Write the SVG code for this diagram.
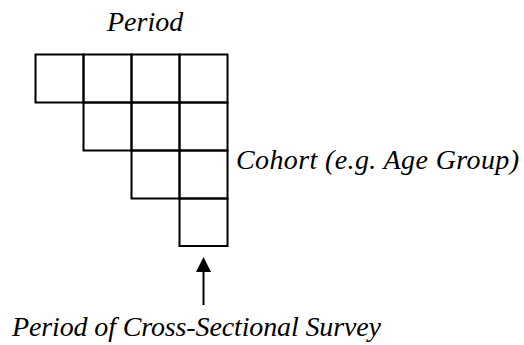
<svg xmlns="http://www.w3.org/2000/svg" width="524" height="345" viewBox="0 0 524 345">
<style>
.cell{fill:none;stroke:#000;stroke-width:2}
.conn{stroke:#000;stroke-width:2;fill:none}
</style>
<rect width="524" height="345" fill="#fff"/>
<g id="grid">
<rect class="cell" x="35.5" y="54.5" width="48" height="48"/>
<rect class="cell" x="83.5" y="54.5" width="48" height="48"/>
<rect class="cell" x="131.5" y="54.5" width="48" height="48"/>
<rect class="cell" x="179.5" y="54.5" width="48" height="48"/>
<rect class="cell" x="83.5" y="102.5" width="48" height="48"/>
<rect class="cell" x="131.5" y="102.5" width="48" height="48"/>
<rect class="cell" x="179.5" y="102.5" width="48" height="48"/>
<rect class="cell" x="131.5" y="150.5" width="48" height="48"/>
<rect class="cell" x="179.5" y="150.5" width="48" height="48"/>
<rect class="cell" x="179.5" y="198.5" width="48" height="47.5"/>
</g>
<g id="labels" font-family="'Liberation Serif', 'Times New Roman', serif" font-style="italic" font-size="28" fill="#000">
<text x="107" y="31">Period</text>
<text x="236" y="169" textLength="283">Cohort (e.g. Age Group)</text>
<text x="12" y="336" textLength="369">Period of Cross-Sectional Survey</text>
</g>
<g id="connectors">
<line class="conn" x1="203.5" y1="305" x2="203.5" y2="262"/>
<path d="M196,272 L203.5,257 L211,272 z" fill="#000"/>
</g>
</svg>
